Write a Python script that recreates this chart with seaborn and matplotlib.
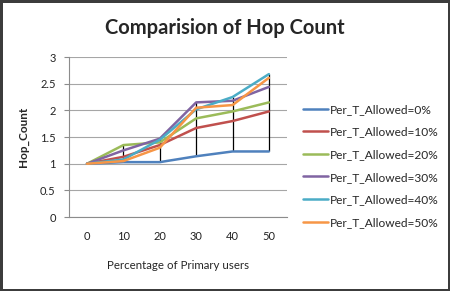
import numpy as np
import pandas as pd
import matplotlib
matplotlib.use("Agg")
import matplotlib.pyplot as plt
import seaborn as sns

# data
primary_users = ["0", "10", "20", "30", "40", "50"]
series_names = ["Per_T_Allowed=0%", "Per_T_Allowed=10%", "Per_T_Allowed=20%",
                "Per_T_Allowed=30%", "Per_T_Allowed=40%", "Per_T_Allowed=50%"]
hop_0 = [1.0, 1.03, 1.03, 1.14, 1.23, 1.23]
hop_10 = [1.0, 1.13, 1.35, 1.67, 1.80, 1.98]
hop_20 = [1.0, 1.35, 1.40, 1.85, 1.98, 2.15]
hop_30 = [1.0, 1.25, 1.47, 2.15, 2.18, 2.44]
hop_40 = [1.0, 1.08, 1.45, 2.02, 2.25, 2.68]
hop_50 = [1.0, 1.05, 1.30, 2.05, 2.10, 2.61]
colors = ["#4F81BD", "#C0504D", "#9BBB59", "#8064A2", "#4BACC6", "#F79646"]

all_series = [hop_0, hop_10, hop_20, hop_30, hop_40, hop_50]
rows = []
for name, vals in zip(series_names, all_series):
    for i, v in enumerate(vals):
        rows.append({"x": i, "Hop_Count": v, "series": name})
df = pd.DataFrame(rows)

sns.set_style("white")
plt.rcParams["font.family"] = ["Lato", "DejaVu Sans"]

fig = plt.figure(figsize=(4.5, 2.91), dpi=100, edgecolor="#3c3c3c", linewidth=2.5)
ax = fig.add_axes([0.153, 0.254, 0.485, 0.55])

# high-low lines
arr = np.array(all_series)
ax.vlines(range(len(primary_users)), arr.min(axis=0), arr.max(axis=0),
          color="black", linewidth=0.9, zorder=3)

sns.lineplot(data=df, x="x", y="Hop_Count", hue="series", palette=colors,
             linewidth=1.8, ax=ax, zorder=4)

ax.set_xlim(-0.5, len(primary_users) - 0.5)
ax.set_ylim(0, 3)
ax.set_yticks(np.arange(0, 3.01, 0.5))
ax.set_yticklabels(["0", "0.5", "1", "1.5", "2", "2.5", "3"])
ax.set_xticks(range(len(primary_users)))
ax.set_xticklabels(primary_users)
ax.yaxis.grid(True, color="#a6a6a6", linewidth=0.8)
ax.tick_params(axis="x", length=0, labelsize=8, colors="#222222", pad=10)
ax.tick_params(axis="y", length=3.5, width=0.8, color="#8c8c8c", direction="out",
               labelsize=8, labelcolor="#222222", pad=6, left=True)
for side in ["top", "right"]:
    ax.spines[side].set_visible(False)
for side in ["left", "bottom"]:
    ax.spines[side].set_color("#8c8c8c")
    ax.spines[side].set_linewidth(0.8)

ax.set_xlabel("Percentage of Primary users", fontsize=8.3, labelpad=13)
ax.set_ylabel("Hop_Count", fontsize=8.5, fontweight="bold", labelpad=8)
fig.text(0.5, 0.905, "Comparision of Hop Count", ha="center", va="center",
         fontsize=14.5, fontweight="bold")

ax.legend(loc="center left", bbox_to_anchor=(1.05, 0.32), frameon=False,
          fontsize=8.6, handlelength=2.1, handletextpad=0.15, labelspacing=0.97,
          borderaxespad=0)

fig.savefig("out.png", dpi=100)
